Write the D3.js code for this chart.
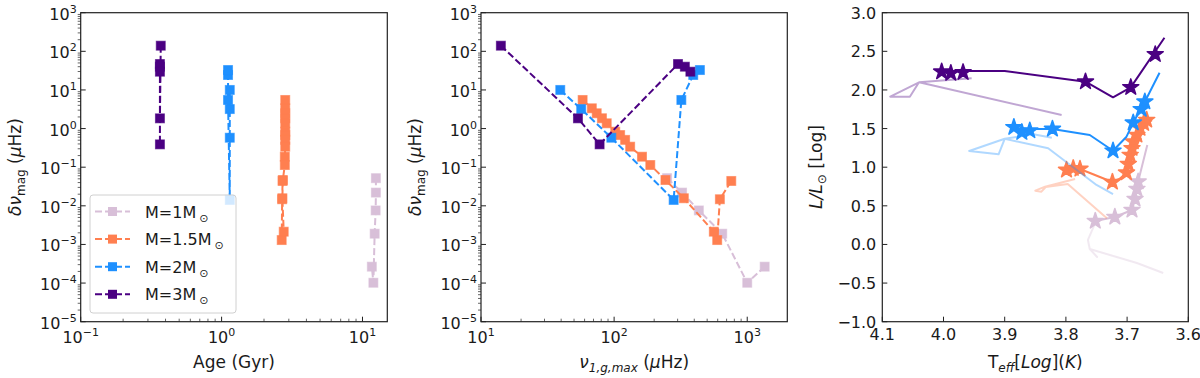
<!DOCTYPE html>
<html><head><meta charset="utf-8">
<script src="https://cdn.jsdelivr.net/npm/d3@7"></script>
<style>
body{margin:0;background:#fff}
text{font-family:"DejaVu Sans",sans-serif;fill:#1a1a1a}
</style>
</head><body>
<svg id="c" width="1200" height="378"></svg>
<script>
// ---------------- DATA ----------------
const massLabels = ["M=1M", "M=1.5M", "M=2M", "M=3M"];
const massColors = ["#D8BFD8", "#FF7F50", "#1E90FF", "#4B0082"];

// Panel 1 & 2: age (Gyr), nu_1,g,max (muHz), delta nu_mag (muHz)
const age_1   = [12.45, 12.45, 12.4, 12.2, 11.95, 11.65];
const numax_1 = [250, 324, 433, 649, 1000, 1352];
const dnu_1   = [0.052, 0.022, 0.0076, 0.0019, 0.000102, 0.000266];

const age_15   = [2.83, 2.83, 2.83, 2.83, 2.83, 2.83, 2.83, 2.83, 2.83, 2.81, 2.81, 2.72, 2.70, 2.76, 2.67, 2.69, 2.71];
const numax_15 = [58, 68, 74, 81, 88, 102, 111, 121, 132, 162, 187, 243, 334, 561, 595, 623, 759];
const dnu_15   = [5.5, 3.35, 2.49, 1.85, 1.37, 0.83, 0.68, 0.51, 0.34, 0.187, 0.114, 0.0466, 0.0157, 0.00214, 0.0013, 0.0148, 0.044];

const age_2   = [1.143, 1.143, 1.143, 1.143, 1.111, 1.111, 1.111];
const numax_2 = [39.4, 56.6, 95.3, 280, 320, 393, 441];
const dnu_2   = [10, 3.2, 0.58, 0.0142, 5.5, 24.4, 32.8];

const age_3   = [0.370, 0.365, 0.365, 0.365, 0.365, 0.365];
const numax_3 = [14.1, 53.5, 77.8, 302, 340, 374];
const dnu_3   = [140, 1.84, 0.39, 46.9, 40, 29.7];

// Panel 3: HR diagram (log Teff, log L)
const starT_1 = [3.752, 3.720, 3.692, 3.687, 3.684, 3.682];
const starL_1 = [0.303, 0.355, 0.446, 0.588, 0.718, 0.812];
const trackT_1 = [3.752, 3.720, 3.692, 3.687, 3.682, 3.667];
const trackL_1 = [0.303, 0.355, 0.446, 0.588, 0.812, 1.287];
const fadeT_1 = [3.752, 3.764, 3.761, 3.749, 3.761, 3.684, 3.641];
const fadeL_1 = [0.278, 0.058, -0.059, -0.162, -0.059, -0.240, -0.370];

const starT_15 = [3.799, 3.788, 3.777, 3.724, 3.701, 3.698, 3.695, 3.692, 3.690, 3.684, 3.679, 3.673, 3.668];
const starL_15 = [0.964, 0.986, 0.977, 0.808, 0.929, 1.041, 1.158, 1.245, 1.330, 1.417, 1.504, 1.568, 1.611];
const trackT_15 = [3.805, 3.777, 3.724, 3.712, 3.701, 3.666];
const trackL_15 = [0.965, 0.977, 0.808, 0.850, 0.929, 1.650];
const fadeT_15 = [3.785, 3.834, 3.850, 3.840, 3.833, 3.797, 3.733];
const fadeL_15 = [0.847, 0.748, 0.696, 0.683, 0.744, 0.783, 0.338];

const starT_2 = [3.885, 3.872, 3.859, 3.822, 3.723, 3.690, 3.677, 3.671];
const starL_2 = [1.517, 1.452, 1.473, 1.495, 1.213, 1.576, 1.750, 1.848];
const trackT_2 = [3.885, 3.859, 3.822, 3.761, 3.723, 3.701, 3.690, 3.671, 3.647];
const trackL_2 = [1.510, 1.495, 1.495, 1.417, 1.213, 1.395, 1.576, 1.848, 2.223];
const fadeT_2 = [3.823, 3.853, 3.900, 3.958, 3.910, 3.900, 3.829, 3.750, 3.723];
const fadeL_2 = [1.382, 1.426, 1.368, 1.210, 1.167, 1.368, 1.245, 0.770, 0.653];

const starT_3 = [4.003, 3.988, 3.968, 3.768, 3.694, 3.654];
const starL_3 = [2.236, 2.216, 2.228, 2.107, 2.034, 2.461];
const trackT_3 = [4.003, 3.968, 3.900, 3.768, 3.723, 3.694, 3.639];
const trackL_3 = [2.236, 2.245, 2.245, 2.107, 1.905, 2.034, 2.676];
const fadeT_3 = [3.954, 4.040, 4.087, 4.055, 4.040, 3.807];
const fadeL_3 = [2.151, 2.099, 1.913, 1.913, 2.099, 1.676];

// Ticks
const yTickExp = [-5, -4, -3, -2, -1, 0, 1, 2, 3];
const xTickExpAge = [-1, 0, 1];
const xTickExpNu = [1, 2, 3];
const xTicksTeff = [4.1, 4.0, 3.9, 3.8, 3.7, 3.6];
const yTicksL = [3.0, 2.5, 2.0, 1.5, 1.0, 0.5, 0.0, -0.5, -1.0];

// ---------------- DRAW ----------------
const svg = d3.select("#c");
const Y0 = 12.7, Y1 = 321.7;
const P = [{x0: 80.7, x1: 387.3}, {x0: 481, x1: 787.3}, {x0: 882.3, x1: 1188.3}];
const AX = "#222";

const ys = d3.scaleLog().domain([1e-5, 1e3]).range([Y1, Y0]);
const xAge = d3.scaleLog().domain([0.1, 15]).range([P[0].x0, P[0].x1]);
const xNu = d3.scaleLog().domain([10, 2000]).range([P[1].x0, P[1].x1]);
const xT = d3.scaleLinear().domain([4.1, 3.6]).range([P[2].x0, P[2].x1]);
const yL = d3.scaleLinear().domain([-1, 3]).range([Y1, Y0]);

const series = [
  {age: age_1, nu: numax_1, dnu: dnu_1, sT: starT_1, sL: starL_1, tT: trackT_1, tL: trackL_1, fT: fadeT_1, fL: fadeL_1},
  {age: age_15, nu: numax_15, dnu: dnu_15, sT: starT_15, sL: starL_15, tT: trackT_15, tL: trackL_15, fT: fadeT_15, fL: fadeL_15},
  {age: age_2, nu: numax_2, dnu: dnu_2, sT: starT_2, sL: starL_2, tT: trackT_2, tL: trackL_2, fT: fadeT_2, fL: fadeL_2},
  {age: age_3, nu: numax_3, dnu: dnu_3, sT: starT_3, sL: starL_3, tT: trackT_3, tL: trackL_3, fT: fadeT_3, fL: fadeL_3}
];

const fmtExp = e => (e < 0 ? "\u2212" + Math.abs(e) : String(e));
function powLabel(sel, e) {
  sel.append("tspan").text("10");
  sel.append("tspan").attr("dy", -7).attr("font-size", 11).text(fmtExp(e));
}

function logYAxis(x0) {
  const g = svg.append("g");
  yTickExp.forEach(e => {
    const y = ys(Math.pow(10, e));
    g.append("line").attr("x1", x0).attr("x2", x0 + 5).attr("y1", y).attr("y2", y).attr("stroke", AX).attr("stroke-width", 1);
    const t = g.append("text").attr("x", x0 - 4).attr("y", y + 7).attr("text-anchor", "end").attr("font-size", 16);
    powLabel(t, e);
  });
  for (let e = -5; e < 3; e++) for (let k = 2; k <= 9; k++) {
    const y = ys(k * Math.pow(10, e));
    g.append("line").attr("x1", x0 - 3).attr("x2", x0).attr("y1", y).attr("y2", y).attr("stroke", AX).attr("stroke-width", 0.7);
  }
}
function logXAxis(xs, exps) {
  const g = svg.append("g");
  const [d0, d1] = xs.domain();
  exps.forEach(e => {
    const x = xs(Math.pow(10, e));
    g.append("line").attr("x1", x).attr("x2", x).attr("y1", Y1).attr("y2", Y1 - 5).attr("stroke", AX).attr("stroke-width", 1);
    const t = g.append("text").attr("x", x).attr("y", Y1 + 21.5).attr("text-anchor", "middle").attr("font-size", 16);
    powLabel(t, e);
  });
  for (let e = Math.floor(Math.log10(d0)); e <= Math.ceil(Math.log10(d1)); e++) for (let k = 2; k <= 9; k++) {
    const v = k * Math.pow(10, e);
    if (v <= d0 || v >= d1) continue;
    const x = xs(v);
    g.append("line").attr("x1", x).attr("x2", x).attr("y1", Y1).attr("y2", Y1 - 3).attr("stroke", AX).attr("stroke-width", 0.7);
  }
}
function frame(p) {
  svg.append("rect").attr("x", p.x0).attr("y", Y0).attr("width", p.x1 - p.x0).attr("height", Y1 - Y0)
    .attr("fill", "none").attr("stroke", AX).attr("stroke-width", 1.2);
}
function drawSquares(xs, xKey) {
  series.forEach((s, i) => {
    const pts = s[xKey].map((v, j) => [v, s.dnu[j]]);
    svg.append("path").datum(pts)
      .attr("d", d3.line().x(d => xs(d[0])).y(d => ys(d[1])))
      .attr("fill", "none").attr("stroke", massColors[i]).attr("stroke-width", 2).attr("stroke-dasharray", "7,3");
    svg.append("g").selectAll("rect").data(pts).join("rect")
      .attr("x", d => xs(d[0]) - 4.5).attr("y", d => ys(d[1]) - 4.5)
      .attr("width", 9).attr("height", 9).attr("fill", massColors[i])
      .attr("stroke", massColors[i]).attr("stroke-width", 1).attr("stroke-opacity", 0.6);
  });
}

// Panel 1
drawSquares(xAge, "age");
logYAxis(P[0].x0);
logXAxis(xAge, xTickExpAge);
frame(P[0]);

// Panel 2
drawSquares(xNu, "nu");
logYAxis(P[1].x0);
logXAxis(xNu, xTickExpNu);
frame(P[1]);

// Panel 3
const star = d3.symbol().type(d3.symbolStar).size(80);
series.forEach((s, i) => {
  const fade = s.fT.map((v, j) => [v, s.fL[j]]);
  svg.append("path").datum(fade)
    .attr("d", d3.line().x(d => xT(d[0])).y(d => yL(d[1])))
    .attr("fill", "none").attr("stroke", massColors[i]).attr("stroke-opacity", 0.35).attr("stroke-width", 2)
    .attr("stroke-linejoin", "round");
  const tr = s.tT.map((v, j) => [v, s.tL[j]]);
  svg.append("path").datum(tr)
    .attr("d", d3.line().x(d => xT(d[0])).y(d => yL(d[1])))
    .attr("fill", "none").attr("stroke", massColors[i]).attr("stroke-width", 2).attr("stroke-linejoin", "round");
  const st = s.sT.map((v, j) => [v, s.sL[j]]);
  svg.append("g").selectAll("path").data(st).join("path")
    .attr("d", star).attr("transform", d => `translate(${xT(d[0])},${yL(d[1])})`)
    .attr("fill", massColors[i]).attr("stroke", massColors[i]).attr("stroke-width", 1.5).attr("stroke-linejoin", "round");
});
{
  const g = svg.append("g");
  xTicksTeff.forEach(v => {
    const x = xT(v);
    g.append("line").attr("x1", x).attr("x2", x).attr("y1", Y1).attr("y2", Y1 - 5).attr("stroke", AX);
    g.append("text").attr("x", x).attr("y", Y1 + 18.5).attr("text-anchor", "middle").attr("font-size", 16).text(v.toFixed(1));
  });
  yTicksL.forEach(v => {
    const y = yL(v);
    g.append("line").attr("x1", P[2].x0).attr("x2", P[2].x0 + 5).attr("y1", y).attr("y2", y).attr("stroke", AX);
    g.append("text").attr("x", P[2].x0 - 6).attr("y", y + 6).attr("text-anchor", "end").attr("font-size", 16)
      .text((v < 0 ? "\u2212" : "") + Math.abs(v).toFixed(1));
  });
}
frame(P[2]);

// Legend (panel 1)
{
  const g = svg.append("g");
  g.append("rect").attr("x", 90).attr("y", 195).attr("width", 146).attr("height", 118).attr("rx", 3)
    .attr("fill", "#fff").attr("fill-opacity", 0.8).attr("stroke", "#d0d0d0").attr("stroke-width", 1);
  massLabels.forEach((lab, i) => {
    const y = 211.5 + i * 27.6;
    g.append("line").attr("x1", 95).attr("x2", 130).attr("y1", y).attr("y2", y)
      .attr("stroke", massColors[i]).attr("stroke-width", 2).attr("stroke-dasharray", "7,3");
    g.append("rect").attr("x", 108).attr("y", y - 4.5).attr("width", 9).attr("height", 9).attr("fill", massColors[i]);
    const t = g.append("text").attr("x", 145).attr("y", y + 6).attr("font-size", 16);
    t.append("tspan").text(lab);
    t.append("tspan").attr("dx", 3).attr("dy", 4).attr("font-size", 11).text("\u2299");
  });
}

// Axis labels
function ylab(x, build) {
  const t = svg.append("text").attr("transform", `translate(${x},167) rotate(-90)`).attr("text-anchor", "middle").attr("font-size", 17);
  build(t);
}
const dnuLabel = t => {
  t.append("tspan").attr("font-style", "italic").text("\u03b4\u03bd");
  t.append("tspan").attr("dy", 4).attr("font-size", 12).text("mag");
  t.append("tspan").attr("dy", -4).text(" (");
  t.append("tspan").attr("font-style", "italic").text("\u03bc");
  t.append("tspan").text("Hz)");
};
ylab(21, dnuLabel);
ylab(421, dnuLabel);
ylab(822, t => {
  t.append("tspan").attr("font-style", "italic").text("L/L");
  t.append("tspan").attr("dy", 4).attr("font-size", 12).text("\u2299");
  t.append("tspan").attr("dy", -4).text(" [Log]");
});

svg.append("text").attr("x", (P[0].x0 + P[0].x1) / 2).attr("y", 368).attr("text-anchor", "middle").attr("font-size", 17).text("Age (Gyr)");
{
  const t = svg.append("text").attr("x", (P[1].x0 + P[1].x1) / 2).attr("y", 368).attr("text-anchor", "middle").attr("font-size", 17);
  t.append("tspan").attr("font-style", "italic").text("\u03bd");
  t.append("tspan").attr("dy", 4).attr("font-size", 12).attr("font-style", "italic").text("1,g,max");
  t.append("tspan").attr("dy", -4).text(" (");
  t.append("tspan").attr("font-style", "italic").text("\u03bc");
  t.append("tspan").text("Hz)");
}
{
  const t = svg.append("text").attr("x", (P[2].x0 + P[2].x1) / 2).attr("y", 368).attr("text-anchor", "middle").attr("font-size", 17);
  t.append("tspan").text("T");
  t.append("tspan").attr("dy", 4).attr("font-size", 12).attr("font-style", "italic").text("eff");
  t.append("tspan").attr("dy", -4).text("[");
  t.append("tspan").attr("font-style", "italic").text("Log");
  t.append("tspan").text("](");
  t.append("tspan").attr("font-style", "italic").text("K");
  t.append("tspan").text(")");
}
</script>
</body></html>
